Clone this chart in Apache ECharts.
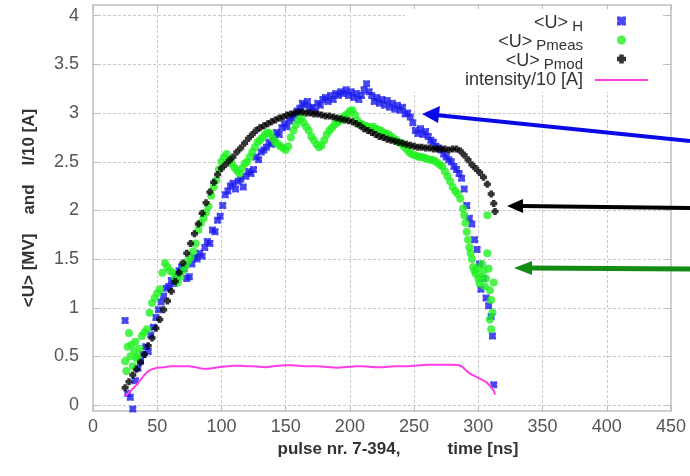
<!DOCTYPE html>
<html>
<head>
<meta charset="utf-8">
<script src="https://cdn.jsdelivr.net/npm/echarts@6/dist/echarts.min.js"></script>
<style>html,body{margin:0;padding:0;background:#fff;}#c{width:690px;height:476px;}</style>
</head>
<body>
<div id="c"></div>
<script>
// ---- data (time in ns, values in MV / A) ----
const xTicks = [0, 50, 100, 150, 200, 250, 300, 350, 400, 450];
const yTicks = [0, 0.5, 1, 1.5, 2, 2.5, 3, 3.5, 4];

const hTime = [25,27,29,31,33,35,37,39,41,43,45,47,49,51,53,55,57,59,61,63,65,67,69,71,73,75,77,79,81,83,85,87,89,91,93,95,97,99,101,103,105,107,109,111,113,115,117,119,121,123,125,127,129,131,133,135,137,139,141,143,145,147,149,151,153,155,157,159,161,163,165,167,169,171,173,175,177,179,181,183,185,187,189,191,193,195,197,199,201,203,205,207,209,211,213,215,217,219,221,223,225,227,229,231,233,235,237,239,241,243,245,247,249,251,253,255,257,259,261,263,265,267,269,271,273,275,277,279,281,283,285,287,289,291,293,295,297,299,301,302,304,306,308,310,311,312];
const hU = [0.87,0.12,0.08,-0.04,0.25,0.38,0.45,0.52,0.60,0.55,0.72,0.80,0.90,0.98,1.06,1.12,1.20,1.22,1.28,1.25,1.32,1.38,1.42,1.40,1.30,1.32,1.45,1.52,1.50,1.56,1.53,1.62,1.68,1.66,1.80,1.78,1.90,1.94,2.05,2.16,2.20,2.25,2.28,2.22,2.30,2.32,2.24,2.35,2.40,2.38,2.42,2.55,2.52,2.60,2.62,2.65,2.70,2.68,2.75,2.80,2.78,2.85,2.89,2.86,2.92,2.95,2.98,3.02,3.05,3.10,3.08,3.12,3.05,3.06,3.02,3.10,3.08,3.14,3.16,3.12,3.18,3.14,3.20,3.18,3.22,3.20,3.24,3.18,3.22,3.16,3.20,3.14,3.18,3.24,3.30,3.22,3.18,3.12,3.16,3.10,3.14,3.08,3.13,3.06,3.10,3.04,3.08,3.03,3.06,2.99,3.00,2.96,2.90,2.82,2.79,2.84,2.78,2.81,2.76,2.72,2.70,2.66,2.64,2.62,2.58,2.55,2.52,2.50,2.45,2.42,2.38,2.33,2.22,2.05,1.92,1.86,1.70,1.60,1.45,1.19,1.30,1.10,1.02,0.91,0.71,0.21];

const pmeasTime = [25,26,27,28,29,30,31,32,33,34,35,36,38,40,42,44,46,48,50,52,54,56,58,60,62,64,66,68,70,72,74,76,78,80,82,84,86,88,90,92,94,96,98,100,102,104,106,108,110,112,114,116,118,120,122,124,126,128,130,132,134,136,138,140,142,144,146,148,150,152,154,156,158,160,162,164,166,168,170,172,174,176,178,180,182,184,186,188,190,192,194,196,198,200,202,204,206,208,210,212,214,216,218,220,222,224,226,228,230,232,234,236,238,240,242,244,246,248,250,252,254,256,258,260,262,264,266,268,270,272,274,276,278,280,282,284,286,288,289,290,291,292,293,294,295,296,297,298,299,300,301,302,303,304,305,306,307,307,308,309,310,311,312,309,310];
const pmeasU = [0.45,0.35,0.60,0.74,0.50,0.62,0.40,0.55,0.65,0.48,0.50,0.58,0.71,0.75,0.78,0.95,1.05,1.10,1.15,1.19,1.36,1.46,1.42,1.38,1.36,1.30,1.26,1.32,1.38,1.43,1.48,1.52,1.58,1.66,1.80,1.87,1.92,1.98,2.04,2.15,2.24,2.31,2.42,2.50,2.55,2.58,2.52,2.48,2.44,2.41,2.38,2.43,2.48,2.50,2.55,2.60,2.65,2.70,2.72,2.75,2.78,2.80,2.79,2.74,2.70,2.68,2.66,2.64,2.62,2.66,2.75,2.82,2.88,2.93,2.95,2.90,2.86,2.82,2.76,2.72,2.68,2.65,2.67,2.72,2.78,2.82,2.85,2.88,2.90,2.92,2.95,2.97,2.99,3.02,3.03,2.98,2.92,2.89,2.88,2.87,2.86,2.85,2.86,2.84,2.83,2.82,2.80,2.79,2.78,2.76,2.74,2.72,2.70,2.69,2.66,2.63,2.60,2.58,2.57,2.56,2.55,2.55,2.54,2.53,2.52,2.52,2.51,2.49,2.47,2.45,2.40,2.35,2.30,2.24,2.20,2.17,2.12,2.02,1.95,1.87,1.78,1.70,1.62,1.56,1.50,1.42,1.38,1.35,1.40,1.30,1.25,1.32,1.45,1.38,1.22,1.30,1.56,1.95,1.40,1.18,1.08,0.95,1.26,0.88,0.78];

const pmodTime = [25,28,31,34,37,40,43,46,49,52,55,58,61,64,67,70,73,76,79,82,85,88,91,94,97,100,103,106,109,112,115,118,121,124,127,130,133,136,139,142,145,148,151,154,157,160,163,166,169,172,175,178,181,184,187,190,193,196,199,202,205,208,211,214,217,220,223,226,229,232,235,238,241,244,247,250,253,256,259,262,265,268,271,274,277,280,283,286,289,292,295,298,301,304,307,310,312,313];
const pmodU = [0.18,0.24,0.31,0.37,0.44,0.52,0.61,0.69,0.79,0.88,0.98,1.07,1.17,1.27,1.36,1.46,1.56,1.66,1.76,1.86,1.97,2.08,2.19,2.29,2.37,2.43,2.47,2.51,2.55,2.60,2.64,2.69,2.74,2.78,2.82,2.85,2.87,2.89,2.91,2.93,2.95,2.96,2.98,2.99,3.00,3.01,3.01,3.00,3.00,2.99,2.99,2.98,2.97,2.97,2.96,2.95,2.94,2.93,2.92,2.91,2.89,2.87,2.84,2.82,2.80,2.78,2.76,2.75,2.73,2.72,2.71,2.70,2.69,2.68,2.67,2.66,2.65,2.65,2.64,2.64,2.63,2.63,2.63,2.63,2.62,2.63,2.63,2.61,2.57,2.52,2.47,2.43,2.39,2.34,2.27,2.17,2.07,1.99];

const intTime = [25,28,31,34,37,40,43,46,50,55,60,65,70,75,80,85,90,95,100,105,110,115,120,125,130,135,140,145,150,155,160,165,170,175,180,185,190,195,200,205,210,215,220,225,230,235,240,245,250,255,260,265,270,275,280,285,288,291,294,297,300,303,306,309,312,313];
const intI10 = [0.09,0.13,0.17,0.21,0.26,0.31,0.35,0.37,0.385,0.39,0.40,0.40,0.40,0.40,0.39,0.375,0.375,0.385,0.395,0.40,0.405,0.405,0.40,0.40,0.395,0.39,0.40,0.405,0.41,0.41,0.405,0.40,0.40,0.40,0.395,0.39,0.385,0.39,0.395,0.40,0.40,0.395,0.39,0.39,0.395,0.40,0.40,0.40,0.405,0.41,0.415,0.415,0.415,0.415,0.415,0.41,0.39,0.35,0.32,0.30,0.28,0.26,0.24,0.20,0.15,0.11];

const seriesNames = ['H', 'Pmeas', 'Pmod', 'intensity/10 [A]'];

function zip(a, b) { return a.map((t, i) => [t, b[i]]); }

const FONT = 'Liberation Sans';
const chart = echarts.init(document.getElementById('c'), null, {renderer: 'canvas'});

const xSymbol = 'path://M0,0H4L5,1L6,0H10V4L9,5L10,6V10H6L5,9L4,10H0V6L1,5L0,4Z';
const plusSymbol = 'path://M2.5,0H7.5V2.5H10V7.5H7.5V10H2.5V7.5H0V2.5H2.5Z';

const gridLine = {show: true, lineStyle: {color: '#c9c9c9', type: [3, 2], width: 1}};
const frame = {show: true, onZero: false, lineStyle: {color: '#cfcfcf', width: 2}};
const tick = {show: true, inside: true, length: 5, lineStyle: {color: '#bbb'}};

const option = {
  animation: false,
  backgroundColor: '#ffffff',
  grid: {left: 93, right: 19, top: 5, bottom: 65, containLabel: false},
  xAxis: [{
    type: 'value', min: 0, max: 450, interval: 50,
    axisLine: frame, axisTick: tick,
    splitLine: gridLine,
    axisLabel: {color: '#555', fontFamily: FONT, fontSize: 18, margin: 7},
    name: 'pulse nr. 7-394,          time [ns]',
    nameLocation: 'middle', nameGap: 28,
    nameTextStyle: {fontFamily: FONT, fontSize: 17, fontWeight: 'bold', color: '#333', padding: [0, 0, 0, 32]}
  }, {
    type: 'value', position: 'top', min: 0, max: 450, interval: 50,
    axisLine: frame, axisTick: tick,
    axisLabel: {show: false}, splitLine: {show: false}
  }],
  yAxis: [{
    type: 'value', min: -0.06, max: 4.11,
    axisLine: frame,
    axisTick: Object.assign({customValues: yTicks}, tick),
    axisLabel: {customValues: yTicks, color: '#555', fontFamily: FONT, fontSize: 18, margin: 14},
    splitLine: gridLine,
    name: '<U> [MV]    and    I/10 [A]',
    nameLocation: 'middle', nameGap: 55, nameRotate: 90,
    nameTextStyle: {fontFamily: FONT, fontSize: 17, fontWeight: 'bold', color: '#333'}
  }, {
    type: 'value', position: 'right', min: -0.06, max: 4.11,
    axisLine: frame,
    axisTick: Object.assign({customValues: yTicks}, tick),
    axisLabel: {show: false}, splitLine: {show: false}
  }],
  legend: {
    orient: 'vertical', align: 'right',
    right: 28, top: 9,
    padding: [5, 14, 3, 60],
    backgroundColor: '#ffffff',
    itemWidth: 53, itemHeight: 9, itemGap: -1,
    data: [
      {name: seriesNames[0]}, {name: seriesNames[1]}, {name: seriesNames[2]},
      {name: seriesNames[3], icon: 'path://M0,0H53V2H0Z'}
    ],
    formatter: function (n) {
      if (n === 'intensity/10 [A]') return '{i|intensity/10 [A]}';
      return '{m|<U>}{s| ' + n + '}';
    },
    textStyle: {
      fontFamily: FONT, color: '#333',
      rich: {
        m: {fontFamily: FONT, fontSize: 18, color: '#333', lineHeight: 14, verticalAlign: 'top'},
        s: {fontFamily: FONT, fontSize: 15, color: '#333', lineHeight: 14, padding: [5, 7, 0, 0], verticalAlign: 'top'},
        i: {fontFamily: FONT, fontSize: 18, color: '#333', lineHeight: 17, padding: [0, 7, 0, 0]}
      }
    }
  },
  series: [
    {name: seriesNames[0], type: 'scatter', data: zip(hTime, hU), symbol: xSymbol, symbolSize: 7,
     itemStyle: {color: '#1a1aee'}, clip: false, z: 2},
    {name: seriesNames[1], type: 'scatter', data: zip(pmeasTime, pmeasU), symbol: 'circle', symbolSize: 8,
     itemStyle: {color: '#22f022'}, clip: false, z: 3},
    {name: seriesNames[2], type: 'scatter', data: zip(pmodTime, pmodU), symbol: plusSymbol, symbolSize: 7,
     itemStyle: {color: '#000000'}, clip: false, z: 4},
    {name: seriesNames[3], type: 'line', data: zip(intTime, intI10), showSymbol: false, symbol: 'none',
     lineStyle: {color: '#ff3ce6', width: 2}, itemStyle: {color: '#ff3ce6'}, z: 5}
  ],
  graphic: [
    {type: 'line', shape: {x1: 690, y1: 141, x2: 436, y2: 115}, style: {stroke: '#0a0ae6', lineWidth: 4}, z: 10},
    {type: 'polygon', shape: {points: [[422, 114], [440, 106], [438, 123]]}, style: {fill: '#0a0ae6'}, z: 10},
    {type: 'line', shape: {x1: 690, y1: 208, x2: 520, y2: 206}, style: {stroke: '#000', lineWidth: 4}, z: 10},
    {type: 'polygon', shape: {points: [[507, 206], [523, 199], [523, 213]]}, style: {fill: '#000'}, z: 10},
    {type: 'line', shape: {x1: 690, y1: 269, x2: 528, y2: 268}, style: {stroke: '#148c14', lineWidth: 5}, z: 10},
    {type: 'polygon', shape: {points: [[514, 268], [532, 261], [532, 275]]}, style: {fill: '#148c14'}, z: 10}
  ]
};
chart.setOption(option);
</script>
</body>
</html>
